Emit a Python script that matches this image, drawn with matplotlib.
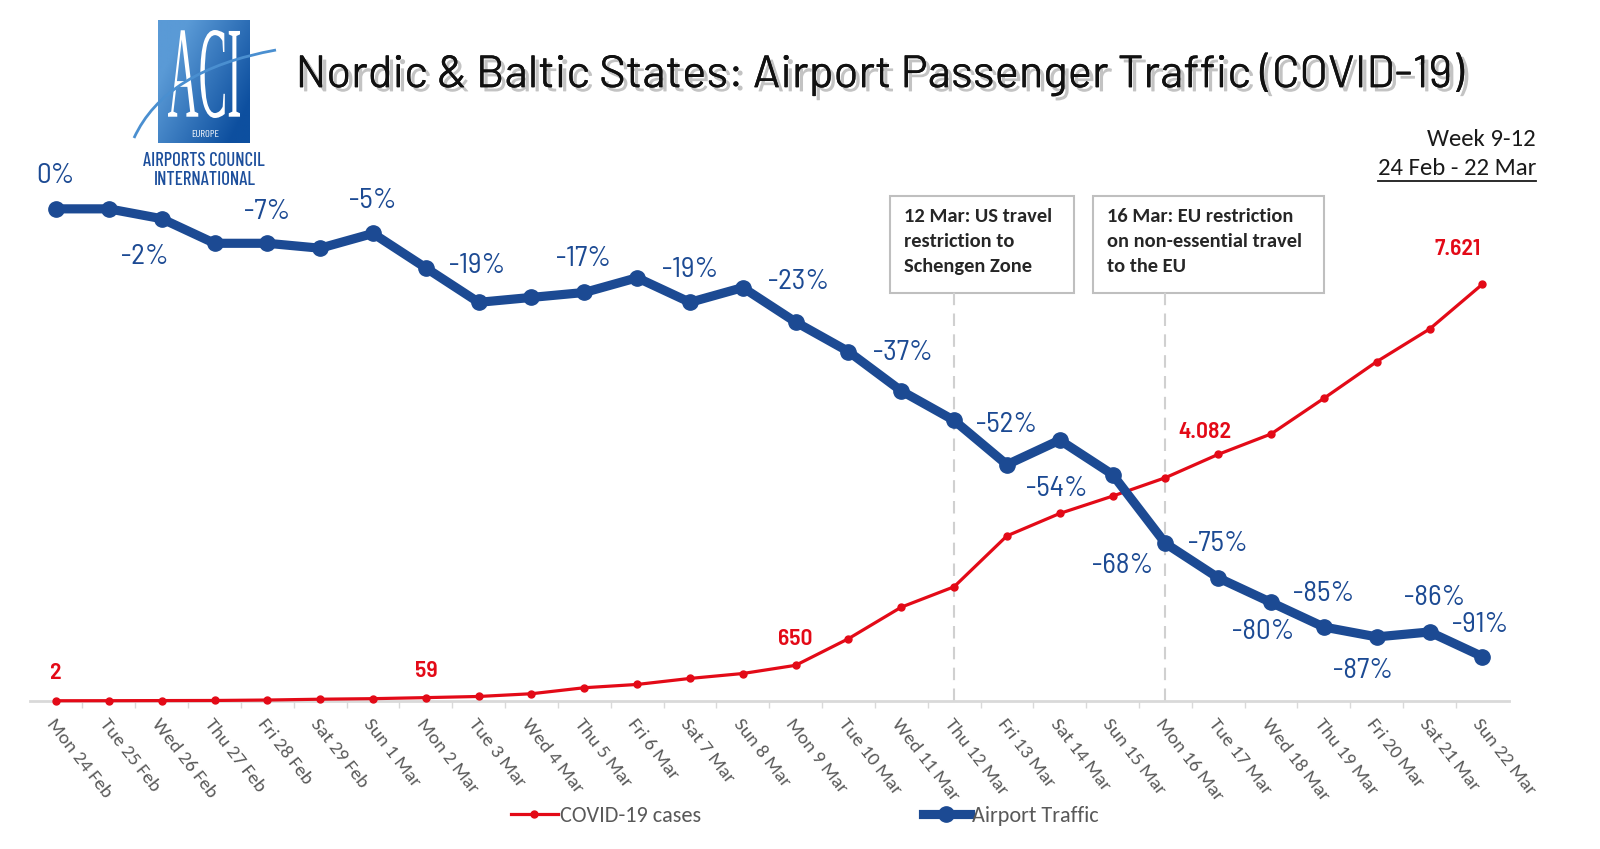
import numpy as np
import matplotlib.pyplot as plt
import matplotlib.patheffects as pe
from matplotlib.lines import Line2D
from matplotlib.patches import Rectangle, PathPatch
from matplotlib.textpath import TextPath
from matplotlib.font_manager import FontProperties
from matplotlib.transforms import Affine2D
from matplotlib.path import Path
from matplotlib.colors import LinearSegmentedColormap

days = ["Mon 24 Feb", "Tue 25 Feb", "Wed 26 Feb", "Thu 27 Feb", "Fri 28 Feb", "Sat 29 Feb",
        "Sun 1 Mar", "Mon 2 Mar", "Tue 3 Mar", "Wed 4 Mar", "Thu 5 Mar", "Fri 6 Mar",
        "Sat 7 Mar", "Sun 8 Mar", "Mon 9 Mar", "Tue 10 Mar", "Wed 11 Mar", "Thu 12 Mar",
        "Fri 13 Mar", "Sat 14 Mar", "Sun 15 Mar", "Mon 16 Mar", "Tue 17 Mar", "Wed 18 Mar",
        "Thu 19 Mar", "Fri 20 Mar", "Sat 21 Mar", "Sun 22 Mar"]

# airport traffic, % change vs last year
traffic = [0, 0, -2, -7, -7, -8, -5, -12, -19, -18, -17, -14, -19, -16,
           -23, -29, -37, -43, -52, -47, -54, -68, -75, -80, -85, -87, -86, -91]

# cumulative COVID-19 cases
cases = [2, 3, 5, 7, 15, 30, 40, 59, 80, 130, 240, 300, 410, 500,
         650, 1137, 1714, 2087, 3018, 3428, 3745, 4082, 4509, 4882, 5534, 6205, 6801, 7621]

# which points get a label, and label offset in pixels (dx, dy)
traffic_lbl = {0: (-1, 33), 2: (-17, -38), 4: (0, 31), 6: (0, 32), 8: (-2, 36), 10: (-1, 33),
               12: (0, 32), 14: (3, 40), 16: (2, 38), 18: (0, 40), 20: (-56, -14),
               21: (-43, -23), 22: (0, 34), 23: (-8, -30), 24: (0, 33), 25: (-14, -34),
               26: (5, 34), 27: (-2, 32)}
cases_lbl = {0: (0, 28), 7: (0, 27), 14: (0, 26), 21: (39, 46), 27: (-25, 35)}

events = {17: "12 Mar: US travel\nrestriction to\nSchengen Zone",
          21: "16 Mar: EU restriction\non non-essential travel\nto the EU"}

RED = "#E30A17"
BLUE = "#1C4A93"
GREY = "#595959"
CALIBRI = ["Carlito", "Roboto Condensed", "DejaVu Sans"]
DIN = ["Barlow Semi Condensed", "Roboto Condensed", "DejaVu Sans"]
DINC = ["Barlow Condensed", "Roboto Condensed", "DejaVu Sans"]

fig = plt.figure(figsize=(16, 8.49), dpi=100)


def fit_width(t, target):
    # scale a text's font size so that it spans target pixels
    r = fig.canvas.get_renderer()
    w = t.get_window_extent(r).width
    t.set_fontsize(t.get_fontsize() * target / w)


# background axes in pixel coordinates for logo / header decorations
bg = fig.add_axes([0, 0, 1, 1])
bg.set_xlim(0, 1600)
bg.set_ylim(849, 0)
bg.axis("off")

ax = fig.add_axes([0.0185, 0.1745, 0.9245, 0.5795])
ax.set_facecolor("none")
ax2 = ax.twinx()

x = np.arange(len(days))
ax.plot(x, cases, color=RED, lw=2.3, marker="o", ms=5, clip_on=False, zorder=3)
ax2.plot(x, traffic, color=BLUE, lw=6.6, marker="o", ms=11, clip_on=False,
         solid_capstyle="round", zorder=3)

ax.set_xlim(-0.5, len(days) - 0.5)
ax.set_ylim(0, 9000)
ax2.set_ylim(-100, 0)

for a in (ax, ax2):
    for s in a.spines.values():
        s.set_visible(False)
    a.set_yticks([])
ax.spines["bottom"].set_visible(True)
ax.spines["bottom"].set_color("#d9d9d9")
ax.spines["bottom"].set_linewidth(2)

ax.set_xticks(x)
ax.set_xticklabels(days, rotation=-52, ha="left", va="top", rotation_mode="anchor",
                   color=GREY, fontsize=14, family=CALIBRI)
ax.tick_params(axis="x", which="major", length=0, pad=11)
ax.set_xticks(x[:-1] + 0.5, minor=True)
ax.tick_params(axis="x", which="minor", length=5, color="#d9d9d9", width=1)

for i, (dx, dy) in traffic_lbl.items():
    ax2.annotate(f"{traffic[i]}%", (x[i], traffic[i]), xytext=(dx, dy),
                 textcoords="offset pixels", ha="center", va="center",
                 color=BLUE, fontsize=21, family=DIN, annotation_clip=False)

for i, (dx, dy) in cases_lbl.items():
    ax.annotate(f"{cases[i]:,}".replace(",", "."), (x[i], cases[i]), xytext=(dx, dy),
                textcoords="offset pixels", ha="center", va="center",
                color=RED, fontsize=17, family=DIN, fontweight="semibold",
                annotation_clip=False)

# event markers
box_px = {17: (890, 196, 184, 97), 21: (1093, 196, 231, 97)}
for i, txt in events.items():
    ax.axvline(x[i], ymin=0, ymax=0.83, color="#d0d0d0", lw=1.5, ls=(0, (6, 4)), zorder=1)
    bx, by, bw, bh = box_px[i]
    bg.add_patch(Rectangle((bx, by), bw, bh, fill=False, ec="#bfbfbf", lw=1.5))
    bg.text(bx + 14, by + 12, txt, ha="left", va="top", fontsize=14.8,
            fontweight="bold", color="#262626", linespacing=1.58, family=CALIBRI)

# title
title = bg.text(880, 74, "Nordic & Baltic States: Airport Passenger Traffic (COVID-19)",
                ha="center", va="center", fontsize=30, color="#111111",
                family=["Barlow", "Roboto", "DejaVu Sans"],
                path_effects=[pe.withSimplePatchShadow(offset=(3, -3),
                                                       shadow_rgbFace="#888888",
                                                       alpha=0.5), pe.Normal()])
fit_width(title, 1168)

# week info
wk = bg.text(1536, 139, "Week 9-12", ha="right", va="center", fontsize=17,
             color="#1a1a1a", family=CALIBRI)
fit_width(wk, 109)
per = bg.text(1536, 168, "24 Feb - 22 Mar", ha="right", va="center",
              fontsize=wk.get_fontsize(), color="#1a1a1a", family=CALIBRI)
pw = per.get_window_extent(fig.canvas.get_renderer()).width
bg.plot([1536 - pw, 1536], [181, 181], color="#1a1a1a", lw=1.3)

# ACI logo
grad = np.linspace(0, 1, 100)
gx, gy = np.meshgrid(grad, grad)
g = np.clip(gx * 0.9 + gy * 0.6 - 0.3, 0, 1)
bg.imshow(g, extent=(158, 250, 143, 20),
          cmap=LinearSegmentedColormap.from_list("aci", ["#5a9ad6", "#0d4f9f"]),
          aspect="auto", zorder=2)
fp = FontProperties(family="Liberation Serif")
tp = TextPath((0, 0), "ACI", size=100, prop=fp)
ext = tp.get_extents()
tr = Affine2D().translate(-ext.x0, -ext.y0).scale(72 / ext.width, -88 / ext.height).translate(168, 118)
bg.add_patch(PathPatch(tr.transform_path(tp), fc="white", ec="none", zorder=3))
sw = Path([(134, 138), (165, 70), (276, 50)], [Path.MOVETO, Path.CURVE3, Path.CURVE3])
bg.add_patch(PathPatch(sw, fc="none", ec="#4a8fd0", lw=2, zorder=4))
bg.text(205, 134, "EUROPE", ha="center", va="center", color="white", fontsize=7.5,
        family=DINC, zorder=5)
bg.text(204, 161, "AIRPORTS COUNCIL", ha="center", va="center", color="#1d4f9c",
        fontsize=13.5, family=DINC, fontweight="medium")
bg.text(205, 180, "INTERNATIONAL", ha="center", va="center", color="#1d4f9c",
        fontsize=13.5, family=DINC, fontweight="medium")

handles = [Line2D([], [], color=RED, lw=2.3, marker="o", ms=5),
           Line2D([], [], color=BLUE, lw=6.6, marker="o", ms=11)]
fig.legend(handles, ["COVID-19 cases", "Airport Traffic"], loc="center",
           bbox_to_anchor=(0.503, 0.039), ncol=2, frameon=False, handlelength=2.1,
           handletextpad=0.1, columnspacing=10, prop={"family": CALIBRI, "size": 16},
           labelcolor=GREY)

fig.savefig("out.png", dpi=100)
